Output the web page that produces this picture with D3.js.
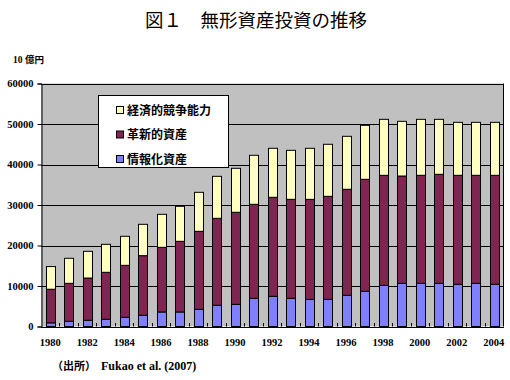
<!DOCTYPE html>
<html><head><meta charset="utf-8">
<script src="https://cdn.jsdelivr.net/npm/d3@7"></script>
<style>body{margin:0;background:#fff}svg{display:block}</style>
</head><body>
<script>
const years = d3.range(1980, 2005);
const infoAssets = [900,1280,1530,1780,2270,2760,3580,3580,4240,5230,5470,6950,7450,6950,6700,6700,7700,8690,10170,10660,10660,10660,10420,10660,10420];
const totalInnov = [9200,10660,11970,13380,15100,17490,19550,21030,23500,26710,28200,30170,31900,31400,31400,32140,33880,36340,37330,37160,37330,37580,37330,37330,37330];
const totalAll = [14800,16840,18560,20290,22270,25230,27700,29670,33130,37080,39060,42270,44000,43500,44000,44990,46960,49670,51150,50660,51150,51150,50410,50410,50410];
const innovProps = totalInnov.map((v,i)=>v-infoAssets[i]);
const econComp = totalAll.map((v,i)=>v-totalInnov[i]);
const seriesNames = ["情報化資産","革新的資産","経済的競争能力"];
const seriesColors = ["#8080FF","#7F2552","#FFFFC0"];
const yTicks = [0,10000,20000,30000,40000,50000,60000];
const xTickYears = years.filter(y=>y%2===0);

const W=510,H=380;
const svg=d3.select("body").append("svg").attr("width",W).attr("height",H);
const L=41,R=503,T=83.5,B=326.5;

const rows = years.map((y,i)=>({year:y,info:infoAssets[i],innov:innovProps[i],econ:econComp[i]}));
const stack = d3.stack().keys(["info","innov","econ"])(rows);

const x=d3.scaleBand().domain(years).range([L,R]).paddingInner(0.54).paddingOuter(0.27);
const xb=d3.scaleBand().domain(years).range([L,R]);
const y=d3.scaleLinear().domain([0,60000]).range([B,T]);

svg.append("rect").attr("x",L).attr("y",T).attr("width",R-L).attr("height",B-T).attr("fill","#C0C0C0");
svg.append("g").selectAll("line").data(yTicks).join("line")
 .attr("x1",L).attr("x2",R).attr("y1",d=>Math.round(y(d))+0.5).attr("y2",d=>Math.round(y(d))+0.5)
 .attr("stroke","#000").attr("stroke-width",1);
svg.append("line").attr("x1",R+0.5).attr("x2",R+0.5).attr("y1",T).attr("y2",B).attr("stroke","#000");

stack.forEach((s,k)=>{
 svg.append("g").selectAll("rect").data(s).join("rect")
  .attr("x",d=>Math.round(x(d.data.year))+0.5)
  .attr("width",Math.round(x.bandwidth()))
  .attr("y",d=>y(d[1]))
  .attr("height",d=>y(d[0])-y(d[1]))
  .attr("fill",seriesColors[k]).attr("stroke","#000").attr("stroke-width",1);
});

// y axis
const ya=svg.append("g").attr("transform",`translate(${L+0.5},0)`)
 .call(d3.axisLeft(y).tickValues(yTicks).tickSize(4).tickPadding(4).tickFormat(d3.format("d")));
ya.select(".domain").attr("stroke","#000");
ya.selectAll("text").attr("font-family","'Liberation Serif',serif").attr("font-weight","bold").attr("font-size",10.5).attr("fill","#000");

// x axis
const xa=svg.append("g").attr("transform",`translate(0,${Math.round(B)+0.5})`)
 .call(d3.axisBottom(xb).tickValues(xTickYears).tickSize(0).tickPadding(11));
xa.select(".domain").remove();
xa.selectAll("text").attr("font-family","'Liberation Serif',serif").attr("font-weight","bold").attr("font-size",10.5).attr("fill","#000");
// inner ticks at category boundaries
svg.append("g").selectAll("line").data(years.slice(1)).join("line")
 .attr("x1",d=>Math.round(xb(d))+0.5).attr("x2",d=>Math.round(xb(d))+0.5)
 .attr("y1",B).attr("y2",B-3.5).attr("stroke","#000");
svg.append("line").attr("x1",L).attr("x2",R+1).attr("y1",Math.round(B)+0.5).attr("y2",Math.round(B)+0.5).attr("stroke","#000");

// title
svg.append("text").attr("x",256).attr("y",27).attr("text-anchor","middle")
 .attr("font-family","'Noto Sans CJK JP',sans-serif").attr("font-size",18.5).attr("fill","#000")
 .text("図１　無形資産投資の推移");
svg.append("text").attr("x",13).attr("y",63)
 .attr("font-family","'Liberation Serif','Noto Sans CJK JP',serif").attr("font-weight","bold").attr("font-size",9.5)
 .text("10 億円");

// legend
const lg=svg.append("g");
lg.append("rect").attr("x",98.5).attr("y",95.5).attr("width",130).attr("height",72).attr("fill","#fff").attr("stroke","#000");
const legOrder=[2,1,0];
legOrder.forEach((k,i)=>{
 const cy=110+i*24.5;
 lg.append("rect").attr("x",116.5).attr("y",cy-3.5).attr("width",7).attr("height",7).attr("fill",seriesColors[k]).attr("stroke","#000");
 lg.append("text").attr("x",127).attr("y",cy+4.5).attr("font-family","'Noto Sans CJK JP',sans-serif")
  .attr("font-weight","bold").attr("font-size",12).text(seriesNames[k]);
});

// source
svg.append("text").attr("x",52).attr("y",370)
 .attr("font-family","'Noto Sans CJK JP',sans-serif").attr("font-weight","bold").attr("font-size",11)
 .text("（出所）");
svg.append("text").attr("x",101).attr("y",370)
 .attr("font-family","'Liberation Serif',serif").attr("font-weight","bold").attr("font-size",12)
 .text("Fukao et al. (2007)");
</script>
</body></html>
